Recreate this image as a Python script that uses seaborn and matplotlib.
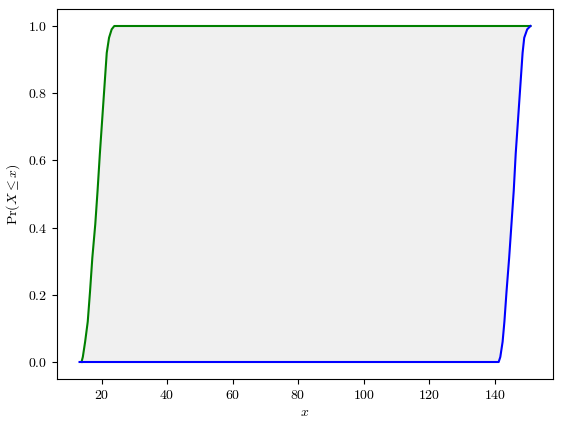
import numpy as np
import matplotlib
matplotlib.use('Agg')
import matplotlib.pyplot as plt
import seaborn as sns

########## DATA ##########
# cumulative probability levels shared by both bounds
p_levels = [0.0, 0.015, 0.06, 0.12, 0.21, 0.31, 0.41, 0.51, 0.62, 0.72, 0.82, 0.92, 0.965, 0.99, 1.0]
# left (upper) bound of the p-box, green
left_x = [13.9, 14.3, 15.0, 15.8, 16.5, 17.2, 18.1, 18.8, 19.5, 20.2, 20.9, 21.6, 22.3, 23.1, 23.9]
# right (lower) bound of the p-box, blue
right_x = [141.2, 141.7, 142.4, 142.95, 143.6, 144.4, 145.1, 145.8, 146.4, 147.1, 147.8, 148.5, 149.0, 149.9, 150.9]
x_min = 13.3  # where the lower bound starts along p=0
####################################################

plt.rcParams['font.family'] = 'serif'
plt.rcParams['font.serif'] = ['cmr10']
plt.rcParams['mathtext.fontset'] = 'cm'
plt.rcParams['axes.formatter.use_mathtext'] = True
plt.rcParams['font.size'] = 10

fig = plt.figure(figsize=(5.62, 4.29), dpi=100)
ax = fig.add_axes([57 / 562, (429 - 378.8) / 429, 496 / 562, 369.6 / 429])

# shaded region between the two bounds
ax.fill_betweenx([0.0] + p_levels, [x_min] + left_x, right_x[:1] + right_x,
                 color='#f0f0f0', linewidth=0)

# left bound, extended along p=1 up to the largest right value
gx = left_x + [max(right_x)]
gy = p_levels + [1.0]
sns.lineplot(x=gx, y=gy, sort=False, estimator=None, color='g', linewidth=1.5, ax=ax)

# right bound, starting along p=0 from the smallest value
bx = [x_min] + right_x
by = [0.0] + p_levels
sns.lineplot(x=bx, y=by, sort=False, estimator=None, color='b', linewidth=1.5, ax=ax)

ax.set_xlabel(r'$x$')
ax.set_ylabel(r'$\Pr(X \leq x)$')

fig.savefig('out.png', dpi=100)
